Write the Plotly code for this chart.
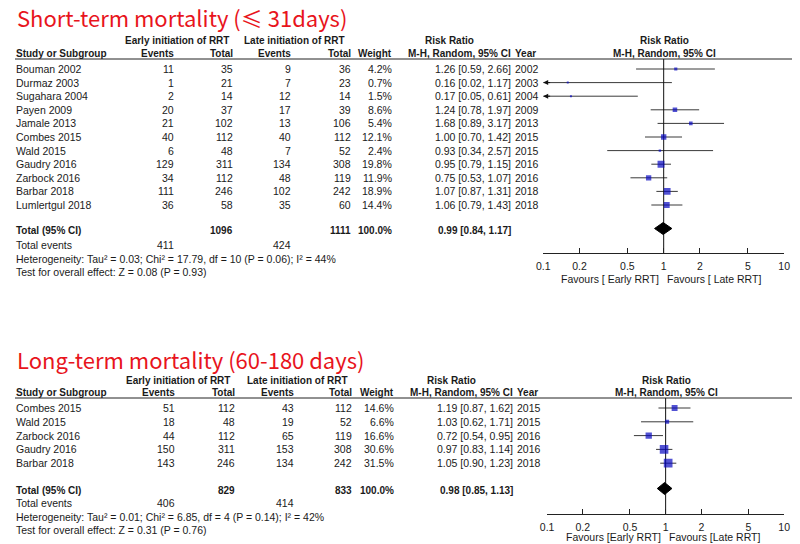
import plotly.graph_objects as go

# the page body keeps its default 8px margin: the figure starts 8px in, and every
# position below is given in window pixels
OFF = 8
W, H = 800 - OFF, 544 - OFF

# ---- Short-term mortality (<= 31 days) ----
st_study = ["Bouman 2002", "Durmaz 2003", "Sugahara 2004", "Payen 2009", "Jamale 2013",
            "Combes 2015", "Wald 2015", "Gaudry 2016", "Zarbock 2016", "Barbar 2018",
            "Lumlertgul 2018"]
st_early_events = [11, 1, 2, 20, 21, 40, 6, 129, 34, 111, 36]
st_early_total = [35, 21, 14, 37, 102, 112, 48, 311, 112, 246, 58]
st_late_events = [9, 7, 12, 17, 13, 40, 7, 134, 48, 102, 35]
st_late_total = [36, 23, 14, 39, 106, 112, 52, 308, 119, 242, 60]
st_weight = [4.2, 0.7, 1.5, 8.6, 5.4, 12.1, 2.4, 19.8, 11.9, 18.9, 14.4]
st_rr = [1.26, 0.16, 0.17, 1.24, 1.68, 1.00, 0.93, 0.95, 0.75, 1.07, 1.06]
st_lo = [0.59, 0.02, 0.05, 0.78, 0.89, 0.70, 0.34, 0.79, 0.53, 0.87, 0.79]
st_hi = [2.66, 1.17, 0.61, 1.97, 3.17, 1.42, 2.57, 1.15, 1.07, 1.31, 1.43]
st_year = [2002, 2003, 2004, 2009, 2013, 2015, 2015, 2016, 2016, 2018, 2018]
st_totals = [1096, 1111, 411, 424]          # early total, late total, early events, late events
st_pooled = [0.99, 0.84, 1.17]
st_het = "Heterogeneity: Tau² = 0.03; Chi² = 17.79, df = 10 (P = 0.06); I² = 44%"
st_test = "Test for overall effect: Z = 0.08 (P = 0.93)"

# ---- Long-term mortality (60-180 days) ----
lt_study = ["Combes 2015", "Wald 2015", "Zarbock 2016", "Gaudry 2016", "Barbar 2018"]
lt_early_events = [51, 18, 44, 150, 143]
lt_early_total = [112, 48, 112, 311, 246]
lt_late_events = [43, 19, 65, 153, 134]
lt_late_total = [112, 52, 119, 308, 242]
lt_weight = [14.6, 6.6, 16.6, 30.6, 31.5]
lt_rr = [1.19, 1.03, 0.72, 0.97, 1.05]
lt_lo = [0.87, 0.62, 0.54, 0.83, 0.90]
lt_hi = [1.62, 1.71, 0.95, 1.14, 1.23]
lt_year = [2015, 2015, 2016, 2016, 2018]
lt_totals = [829, 833, 406, 414]
lt_pooled = [0.98, 0.85, 1.13]
lt_het = "Heterogeneity: Tau² = 0.01; Chi² = 6.85, df = 4 (P = 0.14); I² = 42%"
lt_test = "Test for overall effect: Z = 0.31 (P = 0.76)"

tick_vals = [0.1, 0.2, 0.5, 1, 2, 5, 10]
tick_text = ["0.1", "0.2", "0.5", "1", "2", "5", "10"]

FONT = "Arial, Liberation Sans, sans-serif"
TXT = "#1a1a1a"
RED = "#e8141c"
BLUE = "#0808c0"
SIZE = 10.5
BSIZE = 10

fig = go.Figure()
annotations = []
shapes = []


def px(x):
    return (x - OFF) / W


def py(y):
    return 1 - (y - OFF) / H


def txt(x, y, s, anchor="left", bold=False, size=None, color=TXT, family=FONT):
    if bold:
        s = "<b>" + s + "</b>"
    if size is None:
        size = BSIZE if bold else SIZE
    annotations.append(dict(x=px(x), y=py(y), xref="paper", yref="paper", text=s,
                            showarrow=False, xanchor=anchor, yanchor="middle",
                            borderpad=0, font=dict(family=family, size=size, color=color)))


def panel(n, g, title, study, ee, et, le, lt, wt, rr, lo, hi, yr, totals, pooled, het, test,
          fav_l, fav_r):
    xa = "xaxis" if n == 1 else "xaxis%d" % n
    ya = "yaxis" if n == 1 else "yaxis%d" % n
    xr = "x" if n == 1 else "x%d" % n
    yrf = "y" if n == 1 else "y%d" % n

    txt(9, g["title"], title, size=22, color=RED, family="Noto Sans CJK SC, Noto Sans, sans-serif")

    # column headers
    txt(g["c_grp1"], g["h1"], "Early initiation of RRT", "center", True)
    txt(g["c_grp2"], g["h1"], "Late initiation of RRT", "center", True)
    txt(g["c_rr"], g["h1"], "Risk Ratio", "center", True)
    txt(g["c_fp"], g["h1"], "Risk Ratio", "center", True)
    txt(8, g["h2"], "Study or Subgroup", "left", True)
    txt(g["c_ev1"], g["h2"], "Events", "right", True)
    txt(g["c_tot1"], g["h2"], "Total", "right", True)
    txt(g["c_ev2"], g["h2"], "Events", "right", True)
    txt(g["c_tot2"], g["h2"], "Total", "right", True)
    txt(g["c_wt"], g["h2"], "Weight", "right", True)
    txt(g["c_ci"], g["h2"], "M-H, Random, 95% CI", "right", True)
    txt(g["c_yr"], g["h2"], "Year", "left", True)
    txt(g["c_fp"], g["h2"], "M-H, Random, 95% CI", "center", True)
    shapes.append(dict(type="line", xref="paper", yref="paper", x0=0, x1=1,
                       y0=py(g["line"]), y1=py(g["line"]), line=dict(color="#222", width=1)))

    # study rows
    rows_y = [g["row0"] + i * g["step"] for i in range(len(study))]
    for i, y in enumerate(rows_y):
        txt(8, y, study[i])
        txt(g["c_ev1"], y, str(ee[i]), "right")
        txt(g["c_tot1"], y, str(et[i]), "right")
        txt(g["c_ev2"], y, str(le[i]), "right")
        txt(g["c_tot2"], y, str(lt[i]), "right")
        txt(g["c_wt"], y, "%.1f%%" % wt[i], "right")
        txt(g["c_ci"], y, "%.2f [%.2f, %.2f]" % (rr[i], lo[i], hi[i]), "right")
        txt(g["c_yr"], y, str(yr[i]), "left")

    # totals
    txt(8, g["total"], "Total (95% CI)", "left", True)
    txt(g["c_tot1"], g["total"], str(totals[0]), "right", True)
    txt(g["c_tot2"], g["total"], str(totals[1]), "right", True)
    txt(g["c_wt"], g["total"], "100.0%", "right", True)
    txt(g["c_ci"], g["total"], "%.2f [%.2f, %.2f]" % tuple(pooled), "right", True)
    txt(8, g["tev"], "Total events")
    txt(g["c_ev1"], g["tev"], str(totals[2]), "right")
    txt(g["c_ev2"], g["tev"], str(totals[3]), "right")
    txt(8, g["het"], het)
    txt(8, g["test"], test)

    # forest: confidence interval lines (clipped at 0.1 with an arrow)
    cx, cy = [], []
    for i, y in enumerate(rows_y):
        cx += [max(lo[i], 0.1), min(hi[i], 10), None]
        cy += [y, y, None]
        if lo[i] < 0.1:
            annotations.append(dict(x=-1, y=y, xref=xr, yref=yrf, ax=-0.93, ay=y,
                                    axref=xr, ayref=yrf, text="", showarrow=True,
                                    arrowhead=2, arrowsize=1, arrowwidth=1,
                                    arrowcolor="#111"))
    fig.add_trace(go.Scatter(x=cx, y=cy, mode="lines", xaxis=xr, yaxis=yrf,
                             line=dict(color="#3a3a3a", width=1), hoverinfo="skip",
                             showlegend=False))
    # line of no effect
    fig.add_trace(go.Scatter(x=[1, 1], y=[g["line"], g["axis"]], mode="lines",
                             xaxis=xr, yaxis=yrf, line=dict(color="#111", width=1),
                             hoverinfo="skip", showlegend=False, cliponaxis=False))
    # study squares
    fig.add_trace(go.Scatter(x=rr, y=rows_y, mode="markers", xaxis=xr, yaxis=yrf,
                             marker=dict(symbol="square", color=BLUE,
                                         size=[max(2, 1.55 * w ** 0.5) for w in wt],
                                         line=dict(width=0)),
                             showlegend=False))
    # pooled diamond
    dy = g["total"] - 1.5
    fig.add_trace(go.Scatter(x=[pooled[1], pooled[0], pooled[2], pooled[0], pooled[1]],
                             y=[dy, dy - 6, dy, dy + 6, dy], mode="lines", fill="toself",
                             fillcolor="black", line=dict(color="black", width=1),
                             xaxis=xr, yaxis=yrf, showlegend=False, hoverinfo="skip"))

    fig.layout[xa] = dict(type="log", range=[-1, 1], domain=[px(g["x0"]), px(g["x1"])],
                          anchor=yrf, showline=True, linecolor="#222", linewidth=1,
                          ticks="inside", ticklen=5, tickcolor="#222",
                          tickvals=tick_vals, ticktext=tick_text, showgrid=False,
                          ticklabelstandoff=3, ticklabeloverflow="allow",
                          zeroline=False, tickfont=dict(family=FONT, size=SIZE, color=TXT),
                          fixedrange=True)
    fig.layout[ya] = dict(range=[g["axis"], g["line"]], domain=[py(g["axis"]), py(g["line"])],
                          anchor=xr, visible=False, showgrid=False, zeroline=False,
                          fixedrange=True)
    txt(g["c_one"] - 3, g["fav"], fav_l, "right")
    txt(g["c_one"] + 3, g["fav"], fav_r, "left")


geo_top = dict(title=17, h1=41, h2=53, line=59, row0=69, step=13.6, total=230, tev=245,
               het=259, test=272, axis=253, fav=279, x0=545, x1=790, c_one=667,
               c_grp1=173, c_grp2=292, c_rr=450, c_fp=668,
               c_ev1=171, c_tot1=231, c_ev2=290, c_tot2=351, c_wt=392, c_ci=513, c_yr=515)
geo_bot = dict(title=359, h1=380, h2=392, line=398, row0=408, step=13.8, total=490, tev=503,
               het=517, test=530, axis=514, fav=537, x0=549, x1=790, c_one=669,
               c_grp1=174, c_grp2=295, c_rr=452, c_fp=670,
               c_ev1=172, c_tot1=233, c_ev2=293, c_tot2=352, c_wt=394, c_ci=515, c_yr=517)

panel(1, geo_top, "Short-term mortality (≤ 31days)", st_study, st_early_events,
      st_early_total, st_late_events, st_late_total, st_weight, st_rr, st_lo, st_hi,
      st_year, st_totals, st_pooled, st_het, st_test,
      "Favours [ Early RRT]", "Favours [ Late RRT]")
panel(2, geo_bot, "Long-term mortality (60-180 days)", lt_study, lt_early_events,
      lt_early_total, lt_late_events, lt_late_total, lt_weight, lt_rr, lt_lo, lt_hi,
      lt_year, lt_totals, lt_pooled, lt_het, lt_test,
      "Favours [Early RRT]", "Favours [Late RRT]")

fig.update_layout(width=W, height=H, margin=dict(l=0, r=0, t=0, b=0),
                  paper_bgcolor="white", plot_bgcolor="white",
                  annotations=annotations, shapes=shapes, showlegend=False,
                  font=dict(family=FONT, size=SIZE, color=TXT))

fig.write_html("out.html")
